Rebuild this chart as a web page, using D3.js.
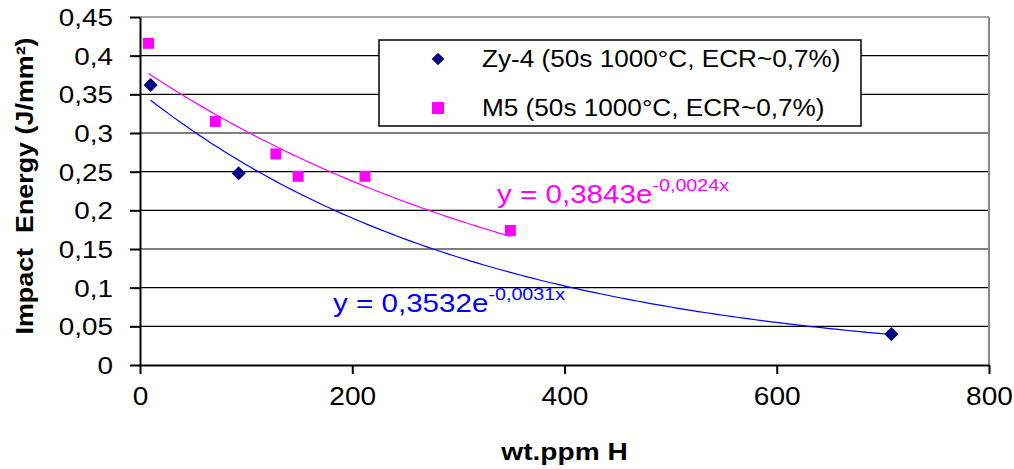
<!DOCTYPE html>
<html><head><meta charset="utf-8">
<script src="https://cdnjs.cloudflare.com/ajax/libs/d3/7.8.5/d3.min.js"></script>
<style>
body{margin:0;background:#fff;}
svg{display:block;font-family:"Liberation Sans",Arial,sans-serif;}
text{white-space:pre;}
</style></head>
<body><svg id="chart" width="1014" height="469"></svg>
<script>
// ---- data ----
const zyX = [10, 93, 708];
const zyY = [0.362, 0.248, 0.040];
const m5X = [8, 71, 128, 149, 212, 349];
const m5Y = [0.416, 0.315, 0.273, 0.244, 0.244, 0.174];
const seriesNames = ["Zy-4 (50s 1000°C, ECR~0,7%)", "M5 (50s 1000°C, ECR~0,7%)"];
const fitA = [0.3532, 0.3843];
const fitB = [-0.0031, -0.0024];
const fitMain = ["y = 0,3532e", "y = 0,3843e"];
const fitExp = ["-0,0031x", "-0,0024x"];
const xTicks = [0, 200, 400, 600, 800];
const xTickLabels = ["0", "200", "400", "600", "800"];
const yTicks = [0, 0.05, 0.1, 0.15, 0.2, 0.25, 0.3, 0.35, 0.4, 0.45];
const yTickLabels = ["0", "0,05", "0,1", "0,15", "0,2", "0,25", "0,3", "0,35", "0,4", "0,45"];
const xTitle = "wt.ppm H";
const yTitle = "Impact  Energy (J/mm²)";

// ---- layout ----
const L = 140, R = 989, T = 17, B = 365;
const svg = d3.select("#chart");
const x = d3.scaleLinear().domain([0, 800]).range([L, R]);
const y = d3.scaleLinear().domain([0, 0.45]).range([B, T]);

// gridlines
svg.append("g").selectAll("line").data(yTicks.filter(v => v > 0 && v < 0.45)).join("line")
  .attr("x1", L).attr("x2", R).attr("y1", d => y(d)).attr("y2", d => y(d))
  .attr("stroke", "#000").attr("stroke-width", 1.2);
// plot border (top/right gray)
svg.append("line").attr("x1", L).attr("x2", R).attr("y1", y(0.45)).attr("y2", y(0.45)).attr("stroke", "#888").attr("stroke-width", 1.5);
svg.append("line").attr("x1", R).attr("x2", R).attr("y1", T).attr("y2", B).attr("stroke", "#888").attr("stroke-width", 2);

// axes
const ya = svg.append("g").attr("transform", `translate(${L},0)`)
  .call(d3.axisLeft(y).tickValues(yTicks).tickFormat((d, i) => yTickLabels[i]).tickSize(10).tickSizeOuter(0));
const xa = svg.append("g").attr("transform", `translate(0,${B})`)
  .call(d3.axisBottom(x).tickValues(xTicks).tickFormat((d, i) => xTickLabels[i]).tickSize(9).tickSizeOuter(0));
[ya, xa].forEach(g => {
  g.select(".domain").attr("stroke", "#000").attr("stroke-width", 2);
  g.selectAll(".tick line").attr("stroke", "#000").attr("stroke-width", 2);
  g.selectAll("text").attr("fill", "#000").attr("font-family", "Liberation Sans, Arial, sans-serif");
});
ya.selectAll("text").attr("font-size", 24).attr("x", -27 / 1.16).attr("dy", "0.36em")
  .attr("transform", "scale(1.16,1)");
xa.selectAll("text").attr("font-size", 26).attr("y", 22).attr("dy", "0.71em")
  .attr("transform", "scale(1.08,1)");

// trend lines
const ranges = [[d3.min(zyX), d3.max(zyX)], [d3.min(m5X), d3.max(m5X)]];
const trendColors = ["#0000ff", "#ff00ff"];
const line = d3.line().x(d => x(d[0])).y(d => y(d[1]));
ranges.forEach((r, k) => {
  const pts = d3.range(r[0], r[1] + 0.001, (r[1] - r[0]) / 120).map(v => [v, fitA[k] * Math.exp(fitB[k] * v)]);
  svg.append("path").datum(pts).attr("d", line).attr("fill", "none")
    .attr("stroke", trendColors[k]).attr("stroke-width", 1.2);
});

// markers
svg.append("g").selectAll("path").data(zyX.map((v, i) => [v, zyY[i]])).join("path")
  .attr("d", d3.symbol(d3.symbolSquare, 100)())
  .attr("transform", d => `translate(${x(d[0])},${y(d[1])}) rotate(45)`)
  .attr("fill", "#000080");
svg.append("g").selectAll("rect").data(m5X.map((v, i) => [v, m5Y[i]])).join("rect")
  .attr("x", d => x(d[0]) - 5.5).attr("y", d => y(d[1]) - 5.5)
  .attr("width", 11).attr("height", 11).attr("fill", "#ff00ff");

// equation labels
const eqPos = [[333, 312], [497, 203]];
const eqColors = ["#0000ff", "#ff00ff"];
eqPos.forEach((p, k) => {
  const t = svg.append("text").attr("transform", `translate(${p[0]},${p[1]}) scale(1.16,1)`)
    .attr("fill", eqColors[k]).attr("font-size", 25.5);
  t.append("tspan").text(fitMain[k]);
  t.append("tspan").attr("font-size", 17).attr("dy", -12).text(fitExp[k]);
});

// legend
const lg = svg.append("g");
lg.append("rect").attr("x", 379).attr("y", 40).attr("width", 482).attr("height", 86)
  .attr("fill", "#fff").attr("stroke", "#000").attr("stroke-width", 1.5);
lg.append("path").attr("d", d3.symbol(d3.symbolSquare, 81)())
  .attr("transform", "translate(438,59) rotate(45)").attr("fill", "#000080");
lg.append("rect").attr("x", 432).attr("y", 102).attr("width", 12).attr("height", 12).attr("fill", "#ff00ff");
lg.selectAll("text.lt").data(seriesNames).join("text").attr("class", "lt")
  .attr("transform", (d, i) => `translate(482,${67 + i * 49}) scale(1.09,1)`)
  .attr("font-size", 24).attr("fill", "#000").text(d => d);

// axis titles
svg.append("text").attr("transform", `translate(${(L + R) / 2},460) scale(1.17,1)`).attr("text-anchor", "middle")
  .attr("font-size", 24).attr("font-weight", "bold").text(xTitle);
svg.append("text").attr("transform", "translate(33,186) rotate(-90) scale(1.12,1)").attr("text-anchor", "middle")
  .attr("font-size", 24).attr("font-weight", "bold").text(yTitle);
</script></body></html>
